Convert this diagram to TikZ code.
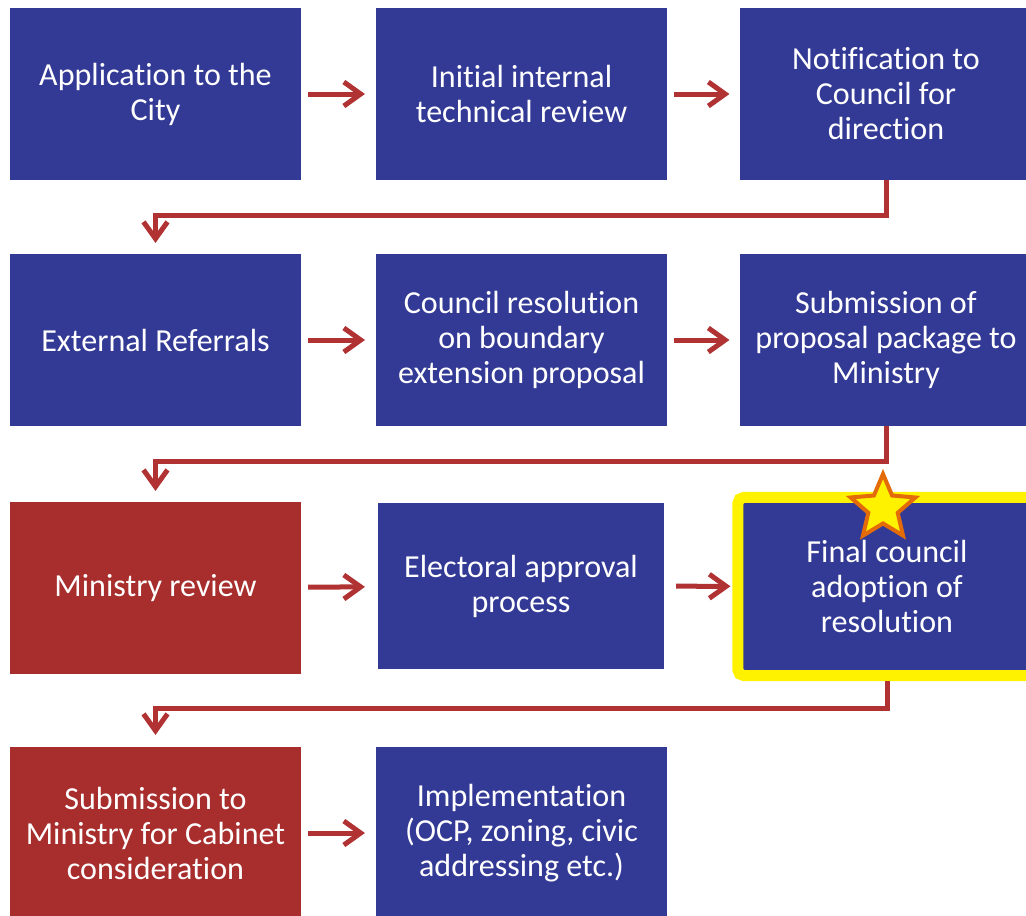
\documentclass[tikz,border=0pt]{standalone}
\usepackage{fontspec}
\setmainfont{Carlito}[Ligatures={NoCommon}]
\usepackage{xcolor}
\usepackage{tikz}
\usetikzlibrary{positioning, arrows.meta, shapes.geometric}
\definecolor{stepblue}{HTML}{333A95}
\definecolor{stepred}{HTML}{A82D2D}
\definecolor{arrowred}{HTML}{B03232}
\definecolor{staredge}{HTML}{E36C09}

\begin{document}
\begin{tikzpicture}[x=0.025cm, y=-0.025cm,
    stepbox/.style={fill=stepblue, text=white, align=center, inner sep=0pt, outer sep=0pt,
                    minimum width=7.275cm, minimum height=4.3cm,
                    font=\fontsize{22.8}{24.9}\selectfont},
    redbox/.style={stepbox, fill=stepred},
    flow/.style={draw=arrowred, line width=0.125cm,
                 -{Straight Barb[length=0.42cm, width=0.6cm]}}]
    \useasboundingbox (0,0) rectangle (1026,915);

    % row 1
    \node[stepbox] (apply) at (155.5,94) {Application to the\\City};
    \node[stepbox] (review) at (521.5,94) {Initial internal\\technical review};
    \node[stepbox] (notify) at (886,94) {Notification to\\Council for\\direction};
    % row 2
    \node[stepbox] (referral) at (155.5,340) {External Referrals};
    \node[stepbox] (resolve) at (521.5,340) {Council resolution\\on boundary\\extension proposal};
    \node[stepbox] (package) at (886,340) {Submission of\\proposal package to\\Ministry};
    % row 3
    \node[redbox] (ministry) at (155.5,588) {Ministry review};
    \node[stepbox, minimum width=7.15cm, minimum height=4.15cm] (electoral) at (521,586)
        {Electoral approval\\process};
    \node[stepbox, draw=yellow, line width=0.275cm, rounded corners=4pt,
          minimum width=7.45cm, minimum height=4.45cm, outer sep=0.1375cm] (adopt) at (887,586.5)
        {Final council\\adoption of\\resolution};
    \node[star, star points=5, star point ratio=2.2, fill=yellow, draw=staredge,
          line width=0.1cm, minimum size=1.7cm, inner sep=0pt] (flag) at (883,508) {};
    % row 4
    \node[redbox] (cabinet) at (155.5,833) {Submission to\\Ministry for Cabinet\\consideration};
    \node[stepbox] (implement) at (521.5,833) {Implementation\\(OCP, zoning, civic\\addressing etc.)};

    % connectors
    \draw[flow, shorten <=0.175cm, shorten >=0.275cm] (apply) -- (review);
    \draw[flow, shorten <=0.175cm, shorten >=0.275cm] (review) -- (notify);
    \draw[flow] (notify.south) -- ++(0,35) -| ([yshift=0.275cm]referral.north);
    \draw[flow, shorten <=0.175cm, shorten >=0.275cm] (referral) -- (resolve);
    \draw[flow, shorten <=0.175cm, shorten >=0.275cm] (resolve) -- (package);
    \draw[flow] (package.south) -- ++(0,35) -| ([yshift=0.275cm]ministry.north);
    \draw[flow, shorten <=0.175cm, shorten >=0.325cm] (ministry) -- (electoral);
    \draw[flow, shorten <=0.3cm, shorten >=0.05cm] (electoral) -- (adopt);
    \draw[flow] (adopt.south) -- ++(0,27) -| ([yshift=0.3cm]cabinet.north);
    \draw[flow, shorten <=0.175cm, shorten >=0.275cm] (cabinet) -- (implement);
\end{tikzpicture}
\end{document}
